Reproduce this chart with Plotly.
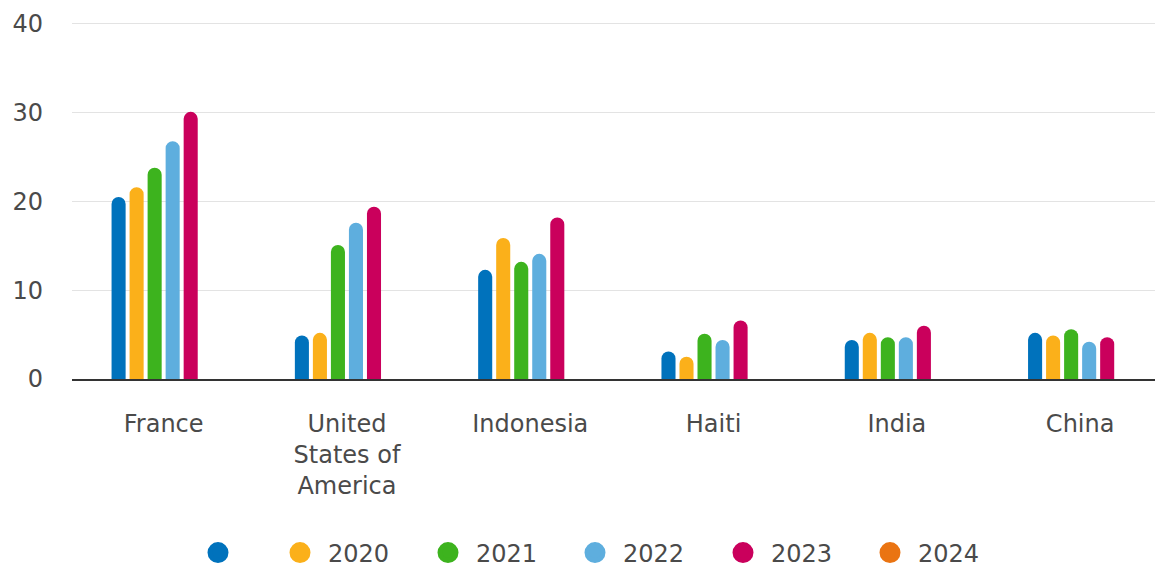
import plotly.graph_objects as go

categories = ["France", "United<br>States of<br>America", "Indonesia", "Haiti", "India", "China"]
series_names = ["", "2020", "2021", "2022", "2023", "2024"]
colors = ["#0072bc", "#fbb01a", "#3db31e", "#5eaede", "#ca005c", "#ea7412"]

v_blank = [20.5, 4.9, 12.3, 3.1, 4.4, 5.2]
v_2020 = [21.6, 5.2, 15.9, 2.5, 5.2, 4.9]
v_2021 = [23.8, 15.1, 13.2, 5.1, 4.7, 5.6]
v_2022 = [26.8, 17.6, 14.1, 4.4, 4.7, 4.2]
v_2023 = [30.1, 19.4, 18.2, 6.6, 6.0, 4.7]
v_2024 = [None, None, None, None, None, None]
values = [v_blank, v_2020, v_2021, v_2022, v_2023, v_2024]

yticks = [0, 10, 20, 30, 40]

FONT = "DejaVu Sans"
TXT = "#4a4a4a"
# page body adds an 8px offset; figure sized to fill the rest of the window
OFF = 8
W, H = 1163 - OFF, 567 - OFF

# legend symbol centres (px, page coords)
legend_px = [218, 300, 448, 595, 743, 890]
legend_py = 553

fig = go.Figure()
for name, col, vals in zip(series_names, colors, values):
    fig.add_trace(go.Bar(
        x=categories, y=vals, name=name, marker=dict(color=col, line=dict(width=0)),
        showlegend=False, legendgroup="g" + name,
    ))
legend_layouts = {}
for i, (name, col) in enumerate(zip(series_names, colors)):
    key = "legend" if i == 0 else f"legend{i+1}"
    fig.add_trace(go.Scatter(
        x=[None], y=[None], mode="markers", name=name, legendgroup="g" + name,
        legend=key,
        marker=dict(symbol="circle", size=16, color=col, line=dict(width=5, color=col)),
        showlegend=True,
    ))
    legend_layouts[key] = dict(
        orientation="h", xref="container", yref="container",
        x=(legend_px[i] - OFF - 28) / W, xanchor="left",
        y=1 - (legend_py - OFF) / H, yanchor="middle",
        font=dict(family=FONT, size=24, color=TXT), itemwidth=46,
        bgcolor="rgba(0,0,0,0)", borderwidth=0,
    )

fig.update_layout(
    width=W, height=H,
    margin=dict(l=64, r=0, t=12, b=188),
    paper_bgcolor="white", plot_bgcolor="white",
    barmode="group", bargap=0.41, bargroupgap=0.22, barcornerradius=7,
    font=dict(family=FONT, size=24, color=TXT),
    xaxis=dict(range=[-0.5, 5.452], showgrid=False, showline=True, linecolor="#333333",
               linewidth=2, ticks="", tickfont=dict(size=24, color=TXT), ticklabelstandoff=22,
               automargin=False),
    yaxis=dict(range=[0, 40.45], tickvals=yticks, showgrid=True, gridcolor="#e3e3e3", gridwidth=1,
               zeroline=False, showline=False, ticks="", tickfont=dict(size=24, color=TXT),
               ticklabelstandoff=28, automargin=False),
    **legend_layouts,
)

fig.write_html("out.html")
